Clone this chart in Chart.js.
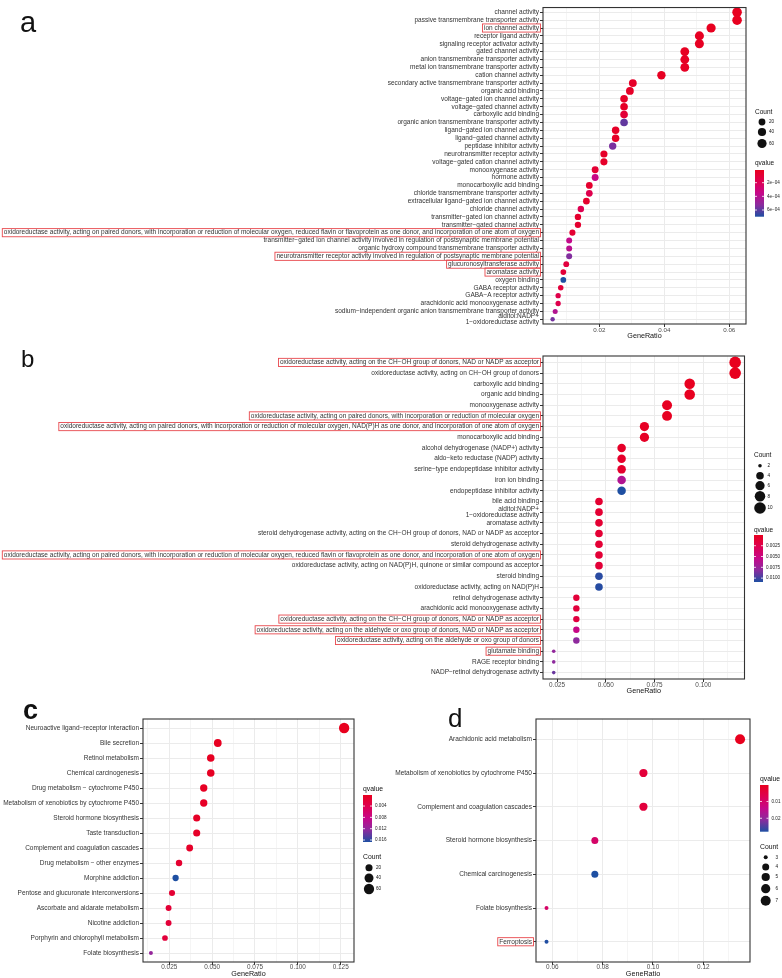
<!DOCTYPE html>
<html>
<head>
<meta charset="utf-8">
<script src="https://cdn.jsdelivr.net/npm/chart.js@4.4.1/dist/chart.umd.min.js"></script>
<style>
    body { margin: 0; background: #fff; }
    #wrap { position: relative; width: 782px; height: 978px; overflow: hidden; background: #fff; }
    canvas { position: absolute; }
    .tag { position: absolute; font-family: 'Liberation Sans', Arial, sans-serif; color: #111; line-height: 1; }
</style>
</head>
<body>
<div id="wrap">
    <canvas id="chartA" width="782" height="340" style="left:0;top:0"></canvas>
    <canvas id="chartB" width="782" height="355" style="left:0;top:340px"></canvas>
    <canvas id="chartC" width="390" height="278" style="left:0;top:700px"></canvas>
    <canvas id="chartD" width="392" height="278" style="left:390px;top:700px"></canvas>
    <div class="tag" style="left:20px;top:8px;font-size:29px;">a</div>
    <div class="tag" style="left:21px;top:347px;font-size:24px;">b</div>
    <div class="tag" style="left:23px;top:697px;font-size:27px;font-weight:bold;">c</div>
    <div class="tag" style="left:448px;top:705px;font-size:26px;">d</div>
</div>
<script>
// fonts
const FAM = "'Liberation Sans Narrow', 'Arial Narrow', 'Liberation Sans', Arial, sans-serif";
const SANS = "'Liberation Sans', Arial, sans-serif";
Chart.defaults.font.family = SANS;

// ---- panel a : GO terms
const aTerms = [
    'channel activity',
    'passive transmembrane transporter activity',
    'ion channel activity',
    'receptor ligand activity',
    'signaling receptor activator activity',
    'gated channel activity',
    'anion transmembrane transporter activity',
    'metal ion transmembrane transporter activity',
    'cation channel activity',
    'secondary active transmembrane transporter activity',
    'organic acid binding',
    'voltage\u2212gated ion channel activity',
    'voltage\u2212gated channel activity',
    'carboxylic acid binding',
    'organic anion transmembrane transporter activity',
    'ligand\u2212gated ion channel activity',
    'ligand\u2212gated channel activity',
    'peptidase inhibitor activity',
    'neurotransmitter receptor activity',
    'voltage\u2212gated cation channel activity',
    'monooxygenase activity',
    'hormone activity',
    'monocarboxylic acid binding',
    'chloride transmembrane transporter activity',
    'extracellular ligand\u2212gated ion channel activity',
    'chloride channel activity',
    'transmitter\u2212gated ion channel activity',
    'transmitter\u2212gated channel activity',
    'oxidoreductase activity, acting on paired donors, with incorporation or reduction of molecular oxygen, reduced flavin or flavoprotein as one donor, and incorporation of one atom of oxygen',
    'transmitter\u2212gated ion channel activity involved in regulation of postsynaptic membrane potential',
    'organic hydroxy compound transmembrane transporter activity',
    'neurotransmitter receptor activity involved in regulation of postsynaptic membrane potential',
    'glucuronosyltransferase activity',
    'aromatase activity',
    'oxygen binding',
    'GABA receptor activity',
    'GABA\u2212A receptor activity',
    'arachidonic acid monooxygenase activity',
    'sodium\u2212independent organic anion transmembrane transporter activity',
    ['alditol:NADP+', '1\u2212oxidoreductase activity']
];
const aRatio = [0.0624, 0.0624, 0.0544, 0.0508, 0.0508, 0.0463, 0.0463, 0.0463, 0.0391, 0.0303,
    0.0294, 0.0276, 0.0276, 0.0276, 0.0276, 0.0250, 0.0250, 0.0241, 0.0214, 0.0214,
    0.0187, 0.0187, 0.0169, 0.0169, 0.0160, 0.0143, 0.0134, 0.0134, 0.0117, 0.0107,
    0.0107, 0.0107, 0.0098, 0.0089, 0.0089, 0.0081, 0.0073, 0.0073, 0.0064, 0.0056];
const aCount = [70, 70, 61, 57, 57, 52, 52, 52, 44, 34, 33, 31, 31, 31, 31, 28, 28, 27, 24, 24,
    21, 21, 19, 19, 18, 16, 15, 15, 13, 12, 12, 12, 11, 10, 10, 9, 8, 8, 7, 6];
const aQ = [1.4e-5, 1.6e-5, 2.2e-5, 3.0e-5, 3.2e-5, 2.6e-5, 3.4e-5, 3.6e-5, 2.8e-5, 5.0e-5,
    4.8e-5, 4.2e-5, 4.4e-5, 9.5e-5, 5.9e-4, 4.6e-5, 4.8e-5, 5.5e-4, 5.2e-5, 5.4e-5,
    8.5e-5, 3.4e-4, 7.0e-5, 1.7e-4, 6.5e-5, 1.8e-4, 7.0e-5, 7.2e-5, 8.0e-5, 3.6e-4,
    3.9e-4, 5.4e-4, 1.2e-4, 1.0e-4, 6.98e-4, 1.1e-4, 1.6e-4, 1.7e-4, 4.1e-4, 5.6e-4];
const aHighlight = ['ion channel activity',
    'oxidoreductase activity, acting on paired donors, with incorporation or reduction of molecular oxygen, reduced flavin or flavoprotein as one donor, and incorporation of one atom of oxygen',
    'neurotransmitter receptor activity involved in regulation of postsynaptic membrane potential',
    'glucuronosyltransferase activity', 'aromatase activity'];
const aMajor = [0.02, 0.04, 0.06];
const aMajorLabels = ['0.02', '0.04', '0.06'];
const aMinor = [0.01, 0.03, 0.05];
const aCountBreaks = [20, 40, 60];
const aQBreaks = [2e-4, 4e-4, 6e-4];
const aQLabels = ['2e\u221204', '4e\u221204', '6e\u221204'];

// ---- panel b : GO terms (second set)
const bTerms = [
    'oxidoreductase activity, acting on the CH\u2212OH group of donors, NAD or NADP as acceptor',
    'oxidoreductase activity, acting on CH\u2212OH group of donors',
    'carboxylic acid binding',
    'organic acid binding',
    'monooxygenase activity',
    'oxidoreductase activity, acting on paired donors, with incorporation or reduction of molecular oxygen',
    'oxidoreductase activity, acting on paired donors, with incorporation or reduction of molecular oxygen, NAD(P)H as one donor, and incorporation of one atom of oxygen',
    'monocarboxylic acid binding',
    'alcohol dehydrogenase (NADP+) activity',
    'aldo\u2212keto reductase (NADP) activity',
    'serine\u2212type endopeptidase inhibitor activity',
    'iron ion binding',
    'endopeptidase inhibitor activity',
    'bile acid binding',
    ['alditol:NADP+', '1\u2212oxidoreductase activity'],
    'aromatase activity',
    'steroid dehydrogenase activity, acting on the CH\u2212OH group of donors, NAD or NADP as acceptor',
    'steroid dehydrogenase activity',
    'oxidoreductase activity, acting on paired donors, with incorporation or reduction of molecular oxygen, reduced flavin or flavoprotein as one donor, and incorporation of one atom of oxygen',
    'oxidoreductase activity, acting on NAD(P)H, quinone or similar compound as acceptor',
    'steroid binding',
    'oxidoreductase activity, acting on NAD(P)H',
    'retinol dehydrogenase activity',
    'arachidonic acid monooxygenase activity',
    'oxidoreductase activity, acting on the CH\u2212CH group of donors, NAD or NADP as acceptor',
    'oxidoreductase activity, acting on the aldehyde or oxo group of donors, NAD or NADP as acceptor',
    'oxidoreductase activity, acting on the aldehyde or oxo group of donors',
    'glutamate binding',
    'RAGE receptor binding',
    'NADP\u2212retinol dehydrogenase activity'
];
const bRatio = [0.1163, 0.1163, 0.0930, 0.0930, 0.0814, 0.0814, 0.0698, 0.0698, 0.0581, 0.0581,
    0.0581, 0.0581, 0.0581, 0.0465, 0.0465, 0.0465, 0.0465, 0.0465, 0.0465, 0.0465,
    0.0465, 0.0465, 0.0349, 0.0349, 0.0349, 0.0349, 0.0349, 0.0233, 0.0233, 0.0233];
const bCount = [10, 10, 8, 8, 7, 7, 6, 6, 5, 5, 5, 5, 5, 4, 4, 4, 4, 4, 4, 4, 4, 4, 3, 3, 3, 3, 3, 2, 2, 2];
const bQ = [2e-5, 3e-5, 1.0e-4, 1.2e-4, 2.0e-4, 2.5e-4, 4.0e-4, 4.5e-4, 6.0e-4, 7.0e-4,
    8.0e-4, 6.4e-3, 1.09e-2, 1.0e-3, 1.1e-3, 1.1e-3, 1.2e-3, 1.2e-3, 1.3e-3, 1.4e-3,
    1.06e-2, 1.07e-2, 1.5e-3, 1.6e-3, 1.8e-3, 5.2e-3, 8.0e-3, 7.8e-3, 8.0e-3, 9.0e-3];
const bHighlight = [bTerms[0], bTerms[5], bTerms[6], bTerms[18], bTerms[24], bTerms[25], bTerms[26], bTerms[27]];
const bMajor = [0.025, 0.05, 0.075, 0.1];
const bMajorLabels = ['0.025', '0.050', '0.075', '0.100'];
const bMinor = [0.0375, 0.0625, 0.0875, 0.1125];
const bCountBreaks = [2, 4, 6, 8, 10];
const bQBreaks = [0.0025, 0.005, 0.0075, 0.01];
const bQLabels = ['0.0025', '0.0050', '0.0075', '0.0100'];

// ---- panel c : KEGG pathways
const cTerms = [
    'Neuroactive ligand\u2212receptor interaction',
    'Bile secretion',
    'Retinol metabolism',
    'Chemical carcinogenesis',
    'Drug metabolism \u2212 cytochrome P450',
    'Metabolism of xenobiotics by cytochrome P450',
    'Steroid hormone biosynthesis',
    'Taste transduction',
    'Complement and coagulation cascades',
    'Drug metabolism \u2212 other enzymes',
    'Morphine addiction',
    'Pentose and glucuronate interconversions',
    'Ascorbate and aldarate metabolism',
    'Nicotine addiction',
    'Porphyrin and chlorophyll metabolism',
    'Folate biosynthesis'
];
const cRatio = [0.1270, 0.0533, 0.0492, 0.0492, 0.0451, 0.0451, 0.0410, 0.0410, 0.0369, 0.0307,
    0.0287, 0.0266, 0.0246, 0.0246, 0.0225, 0.0143];
const cCount = [62, 26, 24, 24, 22, 22, 20, 20, 18, 15, 14, 13, 12, 12, 11, 7];
const cQ = [1e-4, 3e-4, 4e-4, 5e-4, 6e-4, 7e-4, 8e-4, 9e-4, 1.0e-3, 1.5e-3,
    1.67e-2, 1.8e-3, 2.0e-3, 2.2e-3, 2.4e-3, 1.18e-2];
const cHighlight = [];
const cMajor = [0.025, 0.05, 0.075, 0.1, 0.125];
const cMajorLabels = ['0.025', '0.050', '0.075', '0.100', '0.125'];
const cMinor = [0.0125, 0.0375, 0.0625, 0.0875, 0.1125];
const cCountBreaks = [20, 40, 60];
const cQBreaks = [0.004, 0.008, 0.012, 0.016];
const cQLabels = ['0.004', '0.008', '0.012', '0.016'];

// ---- panel d : KEGG pathways (second set)
const dTerms = [
    'Arachidonic acid metabolism',
    'Metabolism of xenobiotics by cytochrome P450',
    'Complement and coagulation cascades',
    'Steroid hormone biosynthesis',
    'Chemical carcinogenesis',
    'Folate biosynthesis',
    'Ferroptosis'
];
const dRatio = [0.1346, 0.0962, 0.0962, 0.0769, 0.0769, 0.0577, 0.0577];
const dCount = [7, 5, 5, 4, 4, 3, 3];
const dQ = [2e-4, 4.0e-3, 4.2e-3, 9.8e-3, 2.8e-2, 9.6e-3, 2.79e-2];
const dHighlight = ['Ferroptosis'];
const dMajor = [0.06, 0.08, 0.1, 0.12];
const dMajorLabels = ['0.06', '0.08', '0.10', '0.12'];
const dMinor = [0.07, 0.09, 0.11, 0.13];
const dCountBreaks = [3, 4, 5, 6, 7];
const dQBreaks = [0.01, 0.02];
const dQLabels = ['0.01', '0.02'];

// colour ramp low qvalue (red) -> high qvalue (blue)
const qStops = ['#E8001E', '#DE0052', '#C5088A', '#8A2C9E', '#1E4FA2'];

function hexRgb(h) {
    return [1, 3, 5].map(i => parseInt(h.substr(i, 2), 16));
}

function qColor(q, lo, hi) {
    let t = (q - lo) / (hi - lo);
    t = Math.max(0, Math.min(1, t));
    const seg = t * (qStops.length - 1);
    const k = Math.min(Math.floor(seg), qStops.length - 2);
    const f = seg - k;
    const a = hexRgb(qStops[k]), b = hexRgb(qStops[k + 1]);
    return 'rgb(' + a.map((v, j) => Math.round(v + (b[j] - v) * f)).join(',') + ')';
}

// shrink the label font until the widest term fits
function fitSize(terms, maxSize, maxW) {
    const c = document.createElement('canvas').getContext('2d');
    c.font = maxSize + 'px ' + FAM;
    let widest = 0;
    terms.forEach(t => {
        [].concat(t).forEach(line => { widest = Math.max(widest, c.measureText(line).width); });
    });
    return widest > maxW ? maxSize * maxW / widest : maxSize;
}

function dotPanel(id, d, L) {
    const qLo = Math.min(...d.q), qHi = Math.max(...d.q);
    const cLo = Math.min(...d.count), cHi = Math.max(...d.count);
    const rad = c => L.rMin + (L.rMax - L.rMin) * Math.sqrt(Math.max(0, c - cLo) / (cHi - cLo));
    const labelSize = fitSize(d.terms, L.labelMax, L.labelW);
    const isMajor = v => d.major.indexOf(v) >= 0;
    const tickLen = 3, tickPad = 1;

    const extras = {
        id: 'extras_' + id,
        afterDraw(chart) {
            const ctx = chart.ctx, area = chart.chartArea, ys = chart.scales.y;
            ctx.save();
            // red frames round the highlighted terms
            ctx.font = labelSize + 'px ' + FAM;
            ctx.strokeStyle = '#E8484D';
            ctx.lineWidth = 0.9;
            d.highlight.forEach(name => {
                const i = d.terms.indexOf(name);
                const y = ys.getPixelForValue(i);
                const w = ctx.measureText(name).width;
                const right = area.left - tickLen - tickPad;
                const h = labelSize + 1.6;
                ctx.strokeRect(right - w - 1.5, y - h / 2, w + 3, h);
            });
            // panel border
            ctx.strokeStyle = '#333';
            ctx.lineWidth = 1.1;
            ctx.strokeRect(area.left, area.top, area.right - area.left, area.bottom - area.top);

            // Count legend
            ctx.textBaseline = 'middle';
            ctx.textAlign = 'left';
            ctx.fillStyle = '#111';
            ctx.font = L.legTitle + 'px ' + SANS;
            ctx.fillText('Count', L.count.x, L.count.y);
            ctx.font = L.legText + 'px ' + SANS;
            d.countBreaks.forEach((c, k) => {
                ctx.beginPath();
                ctx.arc(L.count.dotX, L.count.rowsY[k], rad(c), 0, Math.PI * 2);
                ctx.fill();
                ctx.fillText(String(c), L.count.textX, L.count.rowsY[k]);
            });

            // qvalue colour bar
            ctx.font = L.legTitle + 'px ' + SANS;
            ctx.fillText('qvalue', L.q.x, L.q.y);
            const g = ctx.createLinearGradient(0, L.q.barTop, 0, L.q.barTop + L.q.barH);
            qStops.forEach((c, k) => g.addColorStop(k / (qStops.length - 1), c));
            ctx.fillStyle = g;
            ctx.fillRect(L.q.x, L.q.barTop, L.q.barW, L.q.barH);
            ctx.font = L.legText + 'px ' + SANS;
            d.qBreaks.forEach((v, k) => {
                const y = L.q.barTop + (v - qLo) / (qHi - qLo) * L.q.barH;
                ctx.strokeStyle = '#fff';
                ctx.lineWidth = 0.8;
                ctx.beginPath();
                ctx.moveTo(L.q.x, y); ctx.lineTo(L.q.x + 2, y);
                ctx.moveTo(L.q.x + L.q.barW - 2, y); ctx.lineTo(L.q.x + L.q.barW, y);
                ctx.stroke();
                ctx.fillStyle = '#222';
                ctx.fillText(d.qLabels[k], L.q.textX, y);
            });
            ctx.restore();
        }
    };

    return new Chart(document.getElementById(id), {
        type: 'scatter',
        data: {
            datasets: [{
                data: d.ratio.map((r, i) => ({ x: r, y: i })),
                pointRadius: d.count.map(rad),
                pointHoverRadius: d.count.map(rad),
                pointBackgroundColor: d.q.map(q => qColor(q, qLo, qHi)),
                pointBorderWidth: 0,
                pointBorderColor: 'rgba(0,0,0,0)'
            }]
        },
        options: {
            responsive: false,
            animation: false,
            events: [],
            layout: { padding: { left: 0, right: L.padRight, top: L.padTop, bottom: 0 } },
            plugins: { legend: { display: false }, tooltip: { enabled: false } },
            scales: {
                x: {
                    type: 'linear',
                    min: L.xMin,
                    max: L.xMax,
                    afterBuildTicks: s => { s.ticks = d.major.concat(d.minor).map(v => ({ value: v })); },
                    afterFit: s => { s.height = L.xAxisH; },
                    ticks: {
                        autoSkip: false,
                        maxRotation: 0,
                        padding: L.xTickPad,
                        color: '#4D4D4D',
                        font: { size: L.tickFont, family: SANS, lineHeight: 1.0 },
                        callback: v => isMajor(v) ? d.majorLabels[d.major.indexOf(v)] : ''
                    },
                    grid: {
                        color: '#EBEBEB',
                        lineWidth: c => (c.tick && isMajor(c.tick.value)) ? 1 : 0.5,
                        tickLength: tickLen,
                        tickColor: c => (c.tick && isMajor(c.tick.value)) ? '#333' : 'rgba(0,0,0,0)'
                    },
                    border: { display: false },
                    title: {
                        display: true, text: 'GeneRatio', color: '#111', padding: 0,
                        font: { size: L.titleFont, family: SANS, lineHeight: 1.0 }
                    }
                },
                y: {
                    type: 'linear',
                    reverse: true,
                    min: -0.6,
                    max: d.terms.length - 0.4,
                    afterBuildTicks: s => { s.ticks = d.terms.map((t, i) => ({ value: i })); },
                    afterFit: s => { s.width = L.yW; },
                    ticks: {
                        autoSkip: false,
                        padding: tickPad,
                        color: '#333',
                        font: { size: labelSize, family: FAM, lineHeight: 1.0 },
                        callback: v => d.terms[v]
                    },
                    grid: { color: '#EBEBEB', lineWidth: 1, tickLength: tickLen, tickColor: '#333' },
                    border: { display: false }
                }
            }
        },
        plugins: [extras]
    });
}

// chart a
dotPanel('chartA', {
    terms: aTerms, ratio: aRatio, count: aCount, q: aQ, highlight: aHighlight,
    major: aMajor, majorLabels: aMajorLabels, minor: aMinor,
    countBreaks: aCountBreaks, qBreaks: aQBreaks, qLabels: aQLabels
}, {
    yW: 543, padTop: 2, padRight: 36, xAxisH: 16, xMin: 0.00264, xMax: 0.06515,
    rMin: 2.2, rMax: 4.8, labelMax: 8, labelW: 537, tickFont: 6.2, titleFont: 7.2, xTickPad: 0,
    legTitle: 6.5, legText: 4.6,
    count: { x: 755, y: 112, dotX: 762, textX: 769, rowsY: [122, 132, 143.5] },
    q: { x: 755, y: 163, barTop: 170, barH: 46.7, barW: 9, textX: 767 }
});

// chart b
dotPanel('chartB', {
    terms: bTerms, ratio: bRatio, count: bCount, q: bQ, highlight: bHighlight,
    major: bMajor, majorLabels: bMajorLabels, minor: bMinor,
    countBreaks: bCountBreaks, qBreaks: bQBreaks, qLabels: bQLabels
}, {
    yW: 543, padTop: 16, padRight: 37.5, xAxisH: 16, xMin: 0.0178, xMax: 0.1211,
    rMin: 1.8, rMax: 5.8, labelMax: 8, labelW: 537, tickFont: 6.4, titleFont: 7.2, xTickPad: 0,
    legTitle: 6.5, legText: 4.6,
    count: { x: 754, y: 115.7, dotX: 760, textX: 767.5, rowsY: [125.7, 135.7, 145.7, 156.3, 168] },
    q: { x: 754, y: 190, barTop: 195, barH: 47, barW: 9, textX: 766 }
});

// chart c
dotPanel('chartC', {
    terms: cTerms, ratio: cRatio, count: cCount, q: cQ, highlight: cHighlight,
    major: cMajor, majorLabels: cMajorLabels, minor: cMinor,
    countBreaks: cCountBreaks, qBreaks: cQBreaks, qLabels: cQLabels
}, {
    yW: 143, padTop: 19, padRight: 36, xAxisH: 16, xMin: 0.00968, xMax: 0.13275,
    rMin: 2, rMax: 5.2, labelMax: 8.5, labelW: 136, tickFont: 6.4, titleFont: 7.2, xTickPad: -1,
    legTitle: 6.8, legText: 4.6,
    count: { x: 363, y: 157, dotX: 369, textX: 376, rowsY: [167.7, 178, 189] },
    q: { x: 363, y: 89, barTop: 95, barH: 47, barW: 9, textX: 375 }
});

// chart d
dotPanel('chartD', {
    terms: dTerms, ratio: dRatio, count: dCount, q: dQ, highlight: dHighlight,
    major: dMajor, majorLabels: dMajorLabels, minor: dMinor,
    countBreaks: dCountBreaks, qBreaks: dQBreaks, qLabels: dQLabels
}, {
    yW: 146, padTop: 19, padRight: 32, xAxisH: 16, xMin: 0.05352, xMax: 0.13855,
    rMin: 2, rMax: 5, labelMax: 8.5, labelW: 137, tickFont: 6.4, titleFont: 7.2, xTickPad: -1,
    legTitle: 6.8, legText: 4.6,
    count: { x: 370, y: 146.7, dotX: 375.7, textX: 385.5, rowsY: [157.3, 167, 177, 188.7, 200.7] },
    q: { x: 370, y: 79, barTop: 85, barH: 46.7, barW: 8.5, textX: 381.5 }
});
</script>
</body>
</html>
